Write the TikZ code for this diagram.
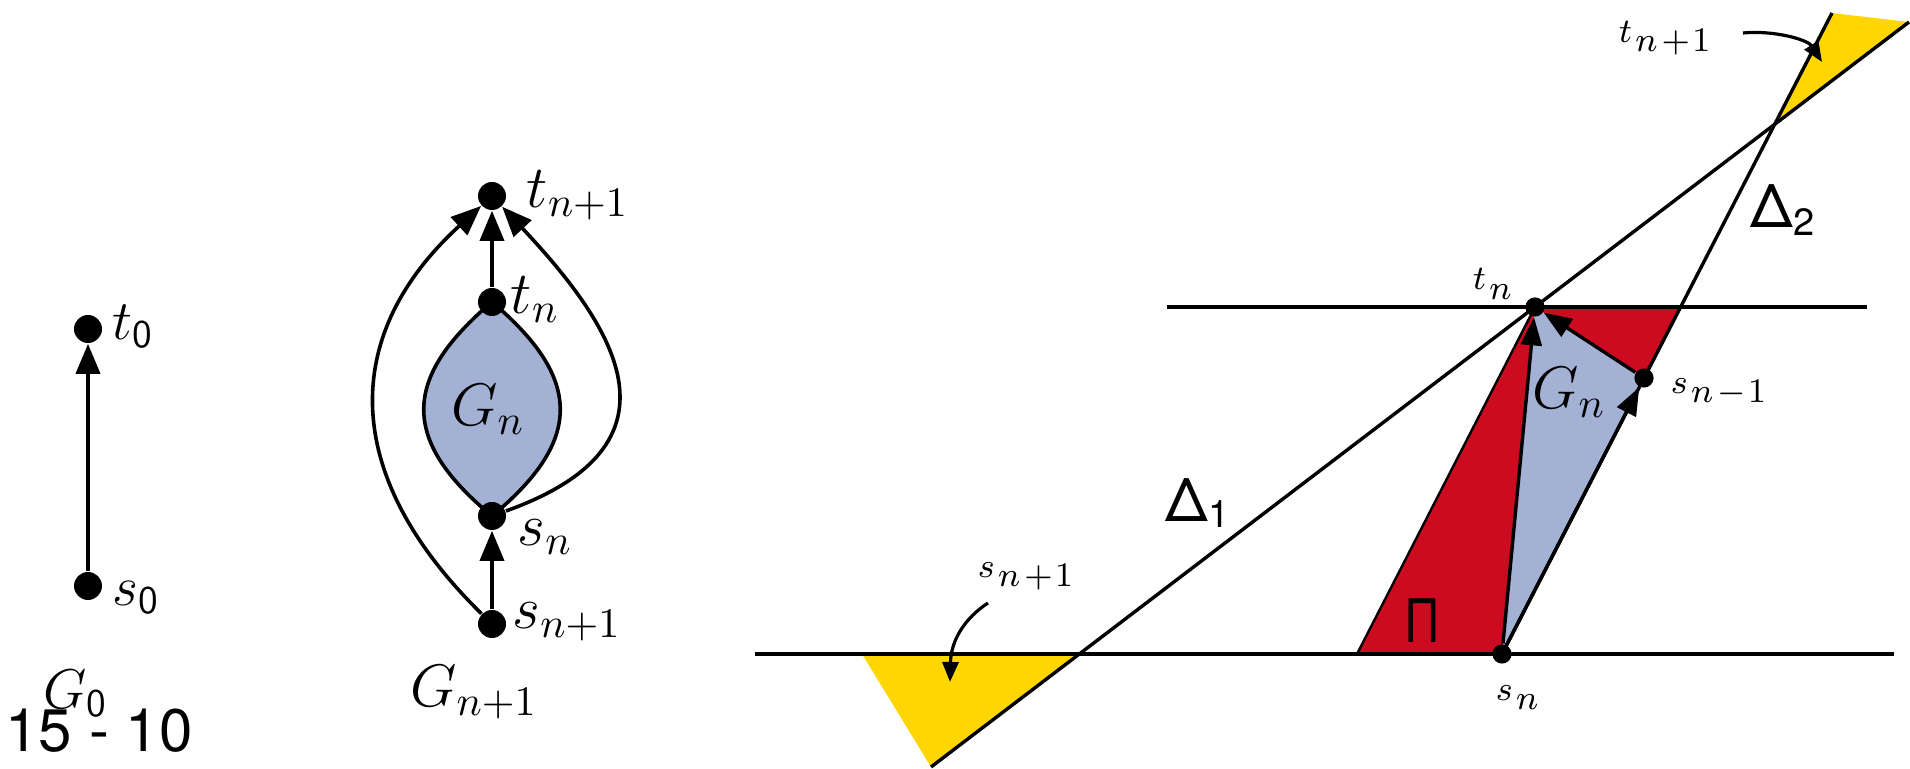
\RequirePackage{fix-cm}
\documentclass[tikz,border=0pt]{standalone}
\usepackage{fontspec}
\usepackage{graphicx}
\newfontfamily\hfont{TeX Gyre Heros}
\usetikzlibrary{arrows.meta}
\definecolor{gblue}{RGB}{163,177,212}
\definecolor{pired}{RGB}{204,10,32}
\definecolor{dyel}{RGB}{255,214,0}
\newcommand\lsub[2]{$#1$\kern0.1em\raisebox{-2.3pt}{$#2$}}
\begin{document}
\begin{tikzpicture}[x=0.25pt,y=-0.25pt,
  bigdot/.style={circle,fill=black,inner sep=0pt,minimum size=7pt},
  smalldot/.style={circle,fill=black,inner sep=0pt,minimum size=4.8pt},
  arr/.style={line width=0.9pt,-{Triangle[length=7.5pt,width=6pt]}},
  rarr/.style={line width=0.85pt,-{Triangle[length=7pt,width=5.2pt]}},
  carr/.style={line width=0.8pt,-{Triangle[length=5pt,width=4pt]}},
  ln/.style={line width=0.85pt},
  mlab/.style={inner sep=0pt,font=\fontsize{15}{18}\selectfont},
  llab/.style={inner sep=0pt,font=\fontsize{14}{17}\selectfont},
  rlab/.style={inner sep=0pt,font=\fontsize{8.6}{10}\selectfont},
  hlab/.style={inner sep=0pt,font=\hfont\fontsize{15}{18}\selectfont}]
\useasboundingbox (0,0) rectangle (1910,769);

% ---------- left: G_0
\node[bigdot] (t0) at (88,329) {};
\node[bigdot] (s0) at (88,586) {};
\draw[arr] (s0) -- (t0);
\node[llab,anchor=west] (t0l) at (112,327) {$t_{\mathsf{0}}$};
\node[llab,anchor=west] (s0l) at (112,598) {$s_{\mathsf{0}}$};
\node[llab] (g0l) at (76,694) {$G_{\mathsf{0}}$};
\node[inner sep=0pt,anchor=base,font=\hfont\fontsize{15}{18}\selectfont] (pg) at (99,752) {15 - 10};

% ---------- middle: G_{n+1}
\path[fill=gblue,draw=black,line width=0.9pt] (492,302) .. controls (402,378) and (400,440) .. (492,516)
  .. controls (584,440) and (582,378) .. (492,302) -- cycle;
\node[bigdot] (tn1) at (492,196) {};
\node[bigdot] (tn) at (492,302) {};
\node[bigdot] (sn) at (492,516) {};
\node[bigdot] (sn1) at (492,624) {};
\draw[arr] (tn) -- (tn1);
\draw[arr] (sn1) -- (sn);
\draw[arr] (sn1) .. controls (340,475) and (340,335) .. (tn1);
\draw[arr] (sn) .. controls (690,445) and (618,330) .. (tn1);
\node[mlab,anchor=west] (ltn1) at (526,195) {$t_{n+1}$};
\node[mlab,anchor=west] (ltn) at (510,300) {$t_n$};
\node[mlab,anchor=west] (lsn) at (517,537) {$s_n$};
\node[mlab,anchor=west] (lsn1) at (512,622) {$s_{n+1}$};
\node[mlab] (lgn) at (488,410) {$G_n$};
\node[mlab] (lgn1) at (474,692) {$G_{n+1}$};

% ---------- right: geometric picture
\coordinate (B1) at (755,654); \coordinate (B2) at (1894,654);
\coordinate (T1) at (1167,307); \coordinate (T2) at (1867,307);
\coordinate (D1a) at (931,767); \coordinate (D1b) at (1909,22);
\coordinate (D2b) at (1832,13);
\coordinate (SNc) at (1502,654); \coordinate (TNc) at (1535,307); \coordinate (SMc) at (1644,378);
\coordinate (X12) at (intersection of D1a--D1b and SNc--D2b);
\coordinate (XB) at (intersection of D1a--D1b and B1--B2);
\coordinate (XT) at (intersection of SNc--D2b and T1--T2);
\fill[dyel] (862,654) -- (XB) -- (D1a) -- cycle;
\fill[dyel] (D2b) -- (D1b) -- (X12) -- cycle;
\filldraw[fill=pired,draw=black,line width=0.6pt] (1357,654) -- (TNc) -- (XT) -- (SNc) -- cycle;
\fill[gblue] (SNc) -- (TNc) -- (SMc) -- cycle;
\draw[ln] (B1) -- (B2);
\draw[ln] (T1) -- (T2);
\draw[ln] (D1a) -- (D1b);
\draw[ln] (SNc) -- (D2b);
\node[smalldot] (rtn) at (TNc) {};
\node[smalldot] (rsn) at (SNc) {};
\node[smalldot] (rsm) at (SMc) {};
\draw[rarr] (rsn) -- (rtn);
\draw[rarr] (rsm) -- (rtn);
\draw[rarr] (rsn) -- (rsm);
\node[rlab,anchor=west] (rltn) at (1472,284) {\lsub{t}{n}};
\node[rlab,anchor=west] (rlsn) at (1495,698) {\lsub{s}{n}};
\node[rlab,anchor=west] (rlsm) at (1670,392) {\lsub{s}{n\mskip2mu{-}\mskip1mu1}};
\node[rlab,anchor=west] (rlsp) at (977,576) {\lsub{s}{n\mskip2mu{+}\mskip1mu1}};
\node[rlab,anchor=west] (rltp) at (1618,38) {\lsub{t}{n\mskip2mu{+}\mskip1mu1}};
\node[mlab] (rlgn) at (1569,393) {$G_n$};
\coordinate (c1s) at (988,603); \coordinate (c1e) at (950,682);
\draw[carr] (c1s) .. controls (965,618) and (951,640) .. (c1e);
\coordinate (c2s) at (1743,33); \coordinate (c2e) at (1822,62);
\draw[carr] (c2s) .. controls (1775,30) and (1808,40) .. (c2e);
\node[hlab,anchor=base west] (d1) at (1165,522) {Δ\raisebox{-1.3pt}{\fontsize{9.5}{10}\selectfont 1}};
\node[hlab,anchor=base west] (d2) at (1750,228) {Δ\raisebox{-1.8pt}{\fontsize{9.5}{10}\selectfont 2}};
\node[hlab,anchor=base west] (pi) at (1407,643) {\scalebox{0.8}[1]{Π}};
\end{tikzpicture}
\end{document}
